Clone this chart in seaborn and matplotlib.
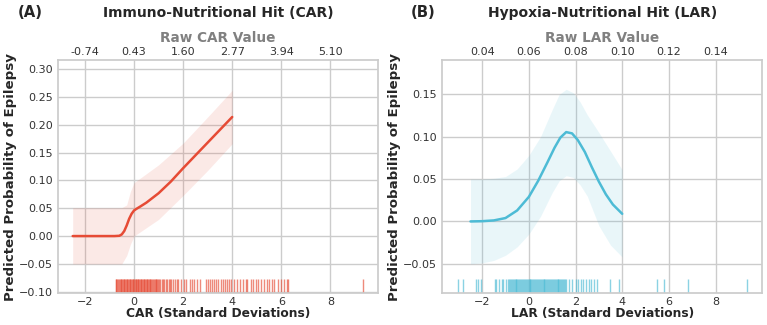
import numpy as np
import pandas as pd
import matplotlib
matplotlib.use("Agg")
import matplotlib.pyplot as plt
import seaborn as sns

sns.set_theme(style="whitegrid")
plt.rcParams["font.family"] = ["DejaVu Sans"]

RED = "#E64B35"
CYAN = "#4DBBD5"

# ---------------------------------------------------------------- CAR panel
car_x = [-2.5, -1.5, -0.8, -0.6, -0.5, -0.4, -0.3, -0.2, -0.1, 0.0, 0.1,
         0.25, 0.5, 1.0, 1.5, 2.0, 2.5, 3.0, 3.5, 4.0]
car_y = [0.0, 0.0, 0.0, 0.0005, 0.003, 0.009, 0.019, 0.031, 0.040, 0.046, 0.049,
         0.053, 0.060, 0.077, 0.098, 0.122, 0.145, 0.168, 0.191, 0.214]
car_band_x = [-2.5, -0.5, -0.3, -0.15, 0.0, 1.0, 2.0, 3.0, 4.0]
car_lo = [-0.05, -0.05, -0.035, -0.015, 0.0, 0.03, 0.073, 0.118, 0.166]
car_hi = [0.051, 0.051, 0.056, 0.080, 0.096, 0.128, 0.167, 0.214, 0.262]
car_rug = [-0.75, -0.72, -0.68, -0.65, -0.61, -0.58, -0.55, -0.52, -0.49, -0.45,
           -0.42, -0.39, -0.36, -0.33, -0.30, -0.27, -0.24, -0.21, -0.18, -0.15,
           -0.12, -0.09, -0.06, -0.03, 0.0, 0.03, 0.06, 0.09, 0.12, 0.15, 0.18,
           0.21, 0.24, 0.27, 0.30, 0.33, 0.36, 0.39, 0.42, 0.45, 0.48, 0.51, 0.54,
           0.57, 0.60, 0.63, 0.66, 0.70, 0.73, 0.77, 0.80, 0.84, 0.88, 0.91, 0.95,
           0.99, 1.03, 1.07, 1.12, 1.18, 1.24, 1.29, 1.35, 1.42, 1.47, 1.52, 1.60,
           1.66, 1.73, 1.80, 1.92, 2.05, 2.12, 2.30, 2.38, 2.45, 2.58, 2.70, 2.95,
           3.02, 3.10, 3.18, 3.26, 3.34, 3.42, 3.55, 3.63, 3.70, 3.80, 3.88, 3.96,
           4.08, 4.20, 4.30, 4.42, 4.55, 4.62, 4.75, 4.85, 4.95, 5.05, 5.18, 5.28,
           5.40, 5.50, 5.62, 5.70, 5.85, 6.00, 6.12, 6.22, 6.28, 9.35]
car_raw_labels = ["-0.74", "0.43", "1.60", "2.77", "3.94", "5.10"]

# ---------------------------------------------------------------- LAR panel
lar_x = [-2.5, -2.0, -1.5, -1.0, -0.5, 0.0, 0.4, 0.8, 1.1, 1.35, 1.6, 1.85,
         2.1, 2.4, 2.7, 3.0, 3.3, 3.6, 4.0]
lar_y = [0.0, 0.0003, 0.0012, 0.004, 0.013, 0.029, 0.048, 0.070, 0.087, 0.099,
         0.1055, 0.104, 0.096, 0.082, 0.064, 0.047, 0.032, 0.020, 0.009]
lar_band_x = [-2.5, -2.0, -1.5, -1.0, -0.5, 0.0, 0.5, 1.0, 1.3, 1.6, 1.9, 2.2,
              2.5, 3.0, 3.5, 4.0]
lar_lo = [-0.050, -0.049, -0.046, -0.040, -0.030, -0.015, 0.006, 0.034, 0.048,
          0.054, 0.052, 0.043, 0.030, -0.005, -0.028, -0.042]
lar_hi = [0.050, 0.050, 0.051, 0.053, 0.062, 0.078, 0.100, 0.132, 0.150, 0.156,
          0.152, 0.141, 0.126, 0.105, 0.083, 0.061]
lar_rug = [-3.04, -2.84, -2.26, -2.16, -2.05, -1.46, -1.39, -1.29, -1.17, -1.09,
           -1.0, -0.89, -0.85, -0.81, -0.77, -0.73, -0.69, -0.65, -0.61, -0.57,
           -0.53, -0.49, -0.45, -0.41, -0.37, -0.33, -0.29, -0.25, -0.21, -0.17,
           -0.13, -0.09, -0.05, -0.01, 0.03, 0.07, 0.11, 0.15, 0.19, 0.23, 0.27,
           0.31, 0.35, 0.39, 0.43, 0.47, 0.51, 0.55, 0.59, 0.63, 0.67, 0.71, 0.75,
           0.79, 0.83, 0.87, 0.91, 0.95, 0.99, 1.03, 1.07, 1.11, 1.15, 1.19, 1.23,
           1.27, 1.31, 1.35, 1.39, 1.43, 1.47, 1.51, 1.55, 1.58, 1.72, 1.87, 2.0,
           2.1, 2.22, 2.33, 2.47, 2.57, 2.67, 2.78, 2.9, 3.48, 3.86, 5.48, 5.77,
           6.8, 9.34]
lar_raw_labels = ["0.04", "0.06", "0.08", "0.10", "0.12", "0.14"]

bottom_ticks = [-2, 0, 2, 4, 6, 8]

panels = [
    dict(tag="(A)", title="Immuno-Nutritional Hit (CAR)", name="CAR", color=RED,
         x=car_x, y=car_y, bx=car_band_x, lo=car_lo, hi=car_hi, rug=car_rug,
         raw=car_raw_labels, xlim=(-3.1, 9.95), ylim=(-0.1023, 0.3162),
         yticks=[-0.10, -0.05, 0.0, 0.05, 0.10, 0.15, 0.20, 0.25, 0.30]),
    dict(tag="(B)", title="Hypoxia-Nutritional Hit (LAR)", name="LAR", color=CYAN,
         x=lar_x, y=lar_y, bx=lar_band_x, lo=lar_lo, hi=lar_hi, rug=lar_rug,
         raw=lar_raw_labels, xlim=(-3.72, 10.0), ylim=(-0.0845, 0.1905),
         yticks=[-0.05, 0.0, 0.05, 0.10, 0.15]),
]

fig = plt.figure(figsize=(7.67, 3.25), dpi=100)
lefts = [0.0756, 0.5763]
tag_x = [0.0235, 0.536]
width = 0.4175
for p, left, tx in zip(panels, lefts, tag_x):
    ax = fig.add_axes([left, 0.0985, width, 0.7165])
    ax.fill_between(p["bx"], p["lo"], p["hi"], color=p["color"], alpha=0.12, lw=0)
    sns.lineplot(x=p["x"], y=p["y"], color=p["color"], lw=1.8, ax=ax)
    sns.rugplot(x=p["rug"], color=p["color"], height=0.06, alpha=0.65, lw=1.3,
                expand_margins=False, ax=ax)
    ax.set_xlim(*p["xlim"])
    ax.set_ylim(*p["ylim"])
    ax.set_xticks(bottom_ticks)
    ax.set_yticks(p["yticks"])
    ax.set_yticklabels([f"{v:.2f}".replace("-", "\u2212") for v in p["yticks"]])
    ax.tick_params(axis="x", labelsize=8, colors="0.2", pad=3.2, length=0)
    ax.tick_params(axis="y", labelsize=8, colors="0.2", pad=3.4, length=0)
    ax.set_xlabel(f"{p['name']} (Standard Deviations)", fontsize=8.8,
                  fontweight="bold", color="0.15")
    ax.xaxis.set_label_coords(0.5, -0.06)
    ax.set_ylabel("Predicted Probability of Epilepsy", fontsize=9.6,
                  fontweight="bold", color="0.15")
    ax.yaxis.set_label_coords(-0.128, 0.5)

    top = ax.twiny()
    top.set_xlim(ax.get_xlim())
    top.set_xticks(bottom_ticks)
    top.set_xticklabels(p["raw"])
    top.grid(False)
    top.tick_params(labelsize=8, colors="0.2", pad=2.2, length=0)
    top.set_xlabel(f"Raw {p['name']} Value", fontsize=9.8, fontweight="bold",
                   color="0.5")
    top.xaxis.set_label_coords(0.5, 1.076)
    top.xaxis.label.set_va("baseline")
    for s in top.spines.values():
        s.set_visible(False)

    ax.set_title(p["title"], fontsize=10, fontweight="bold", color="0.15",
                 y=1.187, pad=0)
    fig.text(tx, 0.947, p["tag"], fontsize=10.7, fontweight="bold",
             color="0.15", ha="left", va="baseline")

fig.savefig("out.png", dpi=100)
